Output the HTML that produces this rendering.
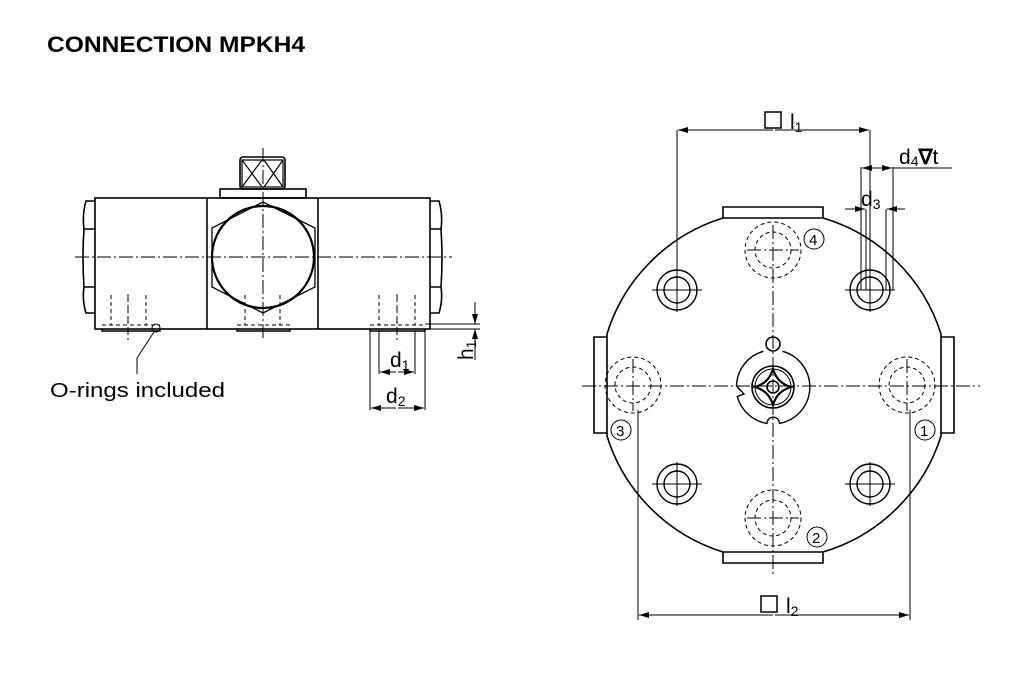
<!DOCTYPE html>
<html><head><meta charset="utf-8"><style>
html,body{margin:0;padding:0;background:#fff;width:1021px;height:682px;overflow:hidden}
svg{display:block}
text{font-family:"Liberation Sans",sans-serif;fill:#000}
</style></head><body>
<svg width="1021" height="682" viewBox="0 0 1021 682" xmlns="http://www.w3.org/2000/svg">
<defs>
<marker id="a" viewBox="0 0 10 6" refX="10" refY="3" markerWidth="10" markerHeight="6" orient="auto" markerUnits="userSpaceOnUse"><path d="M0,0 L10,3 L0,6 z" fill="#000"/></marker>
</defs>
<text x="47" y="52" font-size="22" font-weight="bold" textLength="258" lengthAdjust="spacingAndGlyphs">CONNECTION MPKH4</text>

<!-- LEFT VIEW -->
<g fill="none" stroke="#000" stroke-width="1.6">
<rect x="95" y="198" width="335" height="131"/>
<line x1="207" y1="198" x2="207" y2="329"/>
<line x1="318" y1="198" x2="318" y2="329"/>
<rect x="220" y="189" width="86" height="9"/>
<rect x="240" y="157" width="45" height="32" rx="3"/>
<path d="M242,160 L262,187 M262,160 L242,187 M264,160 L283,187 M283,160 L264,187" stroke-width="1.2"/>
<rect x="242" y="160" width="41" height="27" stroke-width="1.2"/>
<polygon points="263,202 315,228 315,287 263,313 212,287 212,228" stroke-width="1.3"/>
<circle cx="263" cy="257" r="51" stroke-width="2.2"/>
<path d="M95,201 L86,201 Q82,215 84,229 Q82,258 84,287 Q82,300 86,313 L95,313 M84,229 L95,229 M84,287 L95,287"/>
<path d="M430,201 L439,201 Q443,215 441,229 Q443,258 441,287 Q443,300 439,313 L430,313 M441,229 L430,229 M441,287 L430,287"/>
</g>
<g fill="none" stroke="#000" stroke-width="1">
<line x1="75" y1="257" x2="452" y2="257" stroke-dasharray="14,3,2,3"/>
<line x1="263" y1="148" x2="263" y2="340" stroke-dasharray="14,3,2,3"/>
<g stroke-dasharray="4,3">
<path d="M111,295 V325 M146,295 V325 M102,325 H160"/>
<path d="M245,295 V325 M280,295 V325 M237,325 H290"/>
<path d="M379,295 V325 M415,295 V325 M370,325 H425"/>
</g>
<line x1="128" y1="294" x2="128" y2="340" stroke-dasharray="8,3"/>
<line x1="397" y1="294" x2="397" y2="340" stroke-dasharray="8,3"/>
<path d="M102,329 V331 H160 V329 M237,329 V331 H290 V329 M370,329 V331 H425 V329" stroke-width="1.4"/>
<circle cx="156" cy="328" r="4"/>
<path d="M154,332 L137,358 V374"/>
<path d="M379,331 V374 M415,331 V374 M370,331 V410 M425,331 V410"/>
<line x1="396" y1="372" x2="380" y2="372" marker-end="url(#a)"/>
<line x1="398" y1="372" x2="414" y2="372" marker-end="url(#a)"/>
<line x1="396" y1="408" x2="371" y2="408" marker-end="url(#a)"/>
<line x1="398" y1="408" x2="424" y2="408" marker-end="url(#a)"/>
<path d="M425,324 H480 M425,329 H480"/>
<line x1="475" y1="302" x2="475" y2="324" marker-end="url(#a)"/>
<line x1="475" y1="360" x2="475" y2="329" marker-end="url(#a)"/>
</g>
<text x="50" y="397" font-size="20" textLength="175" lengthAdjust="spacingAndGlyphs">O-rings included</text>
<text x="390" y="367" font-size="21">d<tspan font-size="14" dy="3">1</tspan></text>
<text x="386" y="403" font-size="21">d<tspan font-size="14" dy="3">2</tspan></text>
<text transform="translate(473,360) rotate(-90)" font-size="21">h<tspan font-size="14" dy="3">1</tspan></text>

<!-- RIGHT VIEW -->
<g fill="none" stroke="#000" stroke-width="1.6">
<path d="M723,218 L823,218 A176,176 0 0 1 941,334 L941,436 A176,176 0 0 1 823,552 L723,552 A176,176 0 0 1 607,436 L607,334 A176,176 0 0 1 723,218 Z"/>
<path d="M723,218 V207 H823 V218 M723,552 V563 H823 V552 M607,337 H594 V433 H607 M941,337 H954 V433 H941"/>
<g stroke-width="1.4">
<circle cx="677" cy="290" r="20"/><circle cx="677" cy="290" r="13"/>
<circle cx="870" cy="290" r="20"/><circle cx="870" cy="290" r="13"/>
<circle cx="677" cy="484" r="20"/><circle cx="677" cy="484" r="13"/>
<circle cx="870" cy="484" r="20"/><circle cx="870" cy="484" r="13"/>
</g>
<path d="M782.6,351.3 A37,37 0 0 1 779.4,423.4 A6,6 0 0 0 767,423.4 A37,37 0 0 1 737.3,396.6 L744,394 L736.5,386 A37,37 0 0 1 763.4,351.3" stroke-width="1.4"/>
<circle cx="773" cy="344" r="7"/>
<circle cx="773" cy="387" r="21"/>
<circle cx="773" cy="387" r="18" stroke-width="1"/>
<circle cx="773" cy="387" r="6"/>
<path d="M755,387 Q769,383 773,369 Q777,383 791,387 Q777,391 773,405 Q769,391 755,387Z" stroke-width="2.2"/>
</g>
<g fill="none" stroke="#000" stroke-width="1" stroke-dasharray="4,3">
<circle cx="773" cy="250" r="28"/><circle cx="773" cy="250" r="18"/>
<circle cx="773" cy="518" r="28"/><circle cx="773" cy="518" r="18"/>
<circle cx="633" cy="385" r="28"/><circle cx="633" cy="385" r="18"/>
<circle cx="907" cy="385" r="28"/><circle cx="907" cy="385" r="18"/>
</g>
<g fill="none" stroke="#000" stroke-width="1">
<line x1="582" y1="386" x2="980" y2="386" stroke-dasharray="14,3,2,3"/>
<line x1="773" y1="225" x2="773" y2="575" stroke-dasharray="14,3,2,3"/>
<path d="M747,250 H799 M747,518 H799 M633,359 V411 M907,359 V411" stroke-dasharray="14,3,2,3"/>
<path d="M652,290 H702 M677,270 V312 M845,290 H895 M870,270 V312 M652,484 H702 M677,462 V506 M845,484 H895 M870,462 V506"/>
<circle cx="814" cy="239" r="10"/><circle cx="817" cy="537" r="10"/>
<circle cx="621" cy="430" r="10"/><circle cx="925" cy="430" r="10"/>
<path d="M677,130 V272 M870,130 V272"/>
<line x1="773" y1="130" x2="678" y2="130" marker-end="url(#a)"/>
<line x1="775" y1="130" x2="869" y2="130" marker-end="url(#a)"/>
<path d="M861,167 V290 M893,167 V290 M866,209 V290 M886,209 V290"/>
<line x1="877" y1="168" x2="862" y2="168" marker-end="url(#a)"/>
<line x1="877" y1="168" x2="892" y2="168" marker-end="url(#a)"/>
<line x1="893" y1="168" x2="952" y2="168"/>
<line x1="845" y1="209" x2="865" y2="209" marker-end="url(#a)"/>
<line x1="905" y1="209" x2="887" y2="209" marker-end="url(#a)"/>
<path d="M638,410 V620 M910,410 V620"/>
<line x1="773" y1="615" x2="639" y2="615" marker-end="url(#a)"/>
<line x1="775" y1="615" x2="909" y2="615" marker-end="url(#a)"/>
</g>
<g font-size="15" fill="#334">
<text x="809" y="245">4</text><text x="812" y="543">2</text>
<text x="616" y="436">3</text><text x="920" y="436">1</text>
</g>
<rect x="765" y="112" width="16" height="16" fill="none" stroke="#000" stroke-width="1.5"/>
<text x="790" y="129" font-size="21">l<tspan font-size="14" dy="3">1</tspan></text>
<rect x="761" y="596" width="16" height="16" fill="none" stroke="#000" stroke-width="1.5"/>
<text x="786" y="613" font-size="21">l<tspan font-size="14" dy="3">2</tspan></text>
<text x="899" y="164" font-size="21">d<tspan font-size="14" dy="2">4</tspan><tspan dy="-2" font-weight="bold">∇</tspan><tspan>t</tspan></text>
<text x="861" y="206" font-size="21">d<tspan font-size="14" dy="3">3</tspan></text>
</svg>
</body></html>
